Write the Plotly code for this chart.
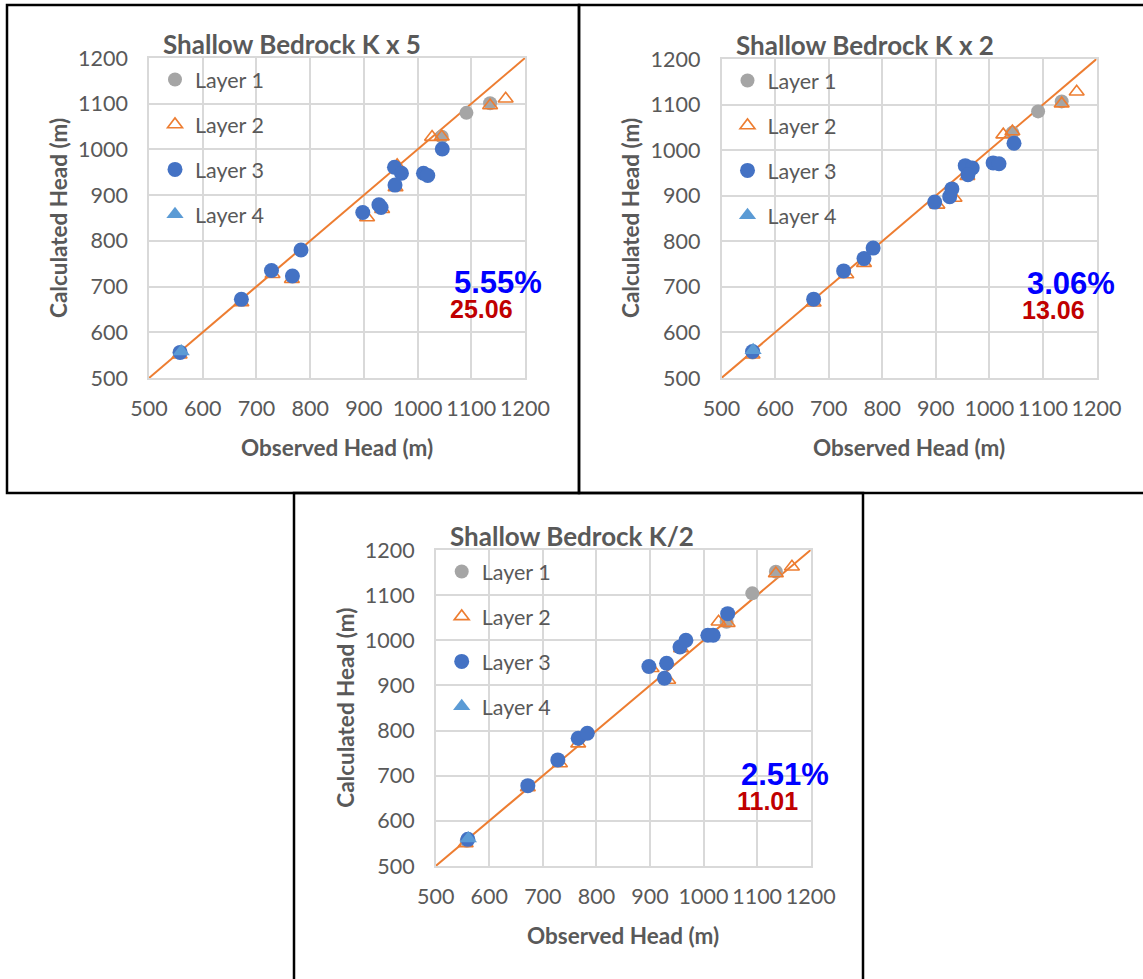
import plotly.graph_objects as go

W, H = 1143, 979

# ---- Observed / calculated heads (m) ----
# Shallow Bedrock K x 5
k5_l1_obs = [557, 1045, 1091, 1135]
k5_l1_calc = [556, 1028, 1080, 1101]
k5_l2_obs = [557, 672, 730, 766, 906, 934, 959, 962, 1027, 1045, 1135, 1164]
k5_l2_calc = [551, 665, 727, 716, 851, 869, 917, 965, 1027, 1028, 1096, 1111]
k5_l3_obs = [558, 672, 728, 767, 783, 898, 928, 932, 957, 970, 958, 1011, 1019, 1046]
k5_l3_calc = [556, 672, 735, 723, 780, 862, 879, 873, 961, 948, 922, 948, 943, 1001]
k5_l4_obs = [560]
k5_l4_calc = [558]

# Shallow Bedrock K x 2
k2_l1_obs = [558, 1043, 1091, 1135]
k2_l1_calc = [556, 1038, 1085, 1107]
k2_l2_obs = [558, 672, 733, 766, 903, 935, 959, 1026, 1043, 1135, 1163]
k2_l2_calc = [551, 665, 727, 752, 880, 895, 943, 1034, 1041, 1102, 1128]
k2_l3_obs = [558, 672, 728, 766, 783, 898, 926, 930, 955, 968, 960, 1007, 1018, 1046]
k2_l3_calc = [558, 673, 735, 762, 785, 886, 898, 915, 966, 961, 946, 972, 970, 1015]
k2_l4_obs = [559]
k2_l4_calc = [561]

# Shallow Bedrock K/2
kh_l1_obs = [558, 1043, 1091, 1135]
kh_l1_calc = [556, 1041, 1104, 1152]
kh_l2_obs = [556, 672, 732, 766, 903, 934, 958, 1028, 1045, 1135, 1165]
kh_l2_calc = [550, 674, 727, 771, 938, 912, 982, 1041, 1038, 1148, 1163]
kh_l3_obs = [560, 672, 728, 766, 783, 898, 927, 931, 956, 967, 1008, 1018, 1045]
kh_l3_calc = [559, 678, 735, 783, 794, 942, 916, 949, 985, 1000, 1011, 1011, 1059]
kh_l4_obs = [561]
kh_l4_calc = [561]

titles = ["Shallow Bedrock K x 5", "Shallow Bedrock K x 2", "Shallow Bedrock K/2"]
error_pct = ["5.55%", "3.06%", "2.51%"]
error_abs = ["25.06", "13.06", "11.01"]
layer_names = ["Layer 1", "Layer 2", "Layer 3", "Layer 4"]
one_to_one = [500, 1200]
tick_vals = [500, 600, 700, 800, 900, 1000, 1100, 1200]

panels = [
    [(k5_l1_obs, k5_l1_calc), (k5_l2_obs, k5_l2_calc), (k5_l3_obs, k5_l3_calc), (k5_l4_obs, k5_l4_calc)],
    [(k2_l1_obs, k2_l1_calc), (k2_l2_obs, k2_l2_calc), (k2_l3_obs, k2_l3_calc), (k2_l4_obs, k2_l4_calc)],
    [(kh_l1_obs, kh_l1_calc), (kh_l2_obs, kh_l2_calc), (kh_l3_obs, kh_l3_calc), (kh_l4_obs, kh_l4_calc)],
]

TEXT = "#595959"
GRID = "#D9D9D9"
ORANGE = "#ED7D31"
FONT = "Lato"

def px_x(p):
    return p / W

def px_y(p):
    return 1 - p / H

# plot-area pixel boxes: (left, right, top, bottom)
boxes = [(149, 525, 58, 378), (721.5, 1096.5, 59, 378), (435.7, 810.7, 550, 866)]

markers = [
    dict(symbol="circle", size=14, color="#A5A5A5"),
    dict(symbol="triangle-up-open", size=13, color=ORANGE, line=dict(width=1.6, color=ORANGE)),
    dict(symbol="circle", size=15, color="#4472C4"),
    dict(symbol="triangle-up", size=15, color="#5B9BD5"),
]

fig = go.Figure()
layout = {}
annotations = []

for i, (panel, box) in enumerate(zip(panels, boxes)):
    sfx = "" if i == 0 else str(i + 1)
    xa, ya = "x" + sfx, "y" + sfx
    leg = "legend" + sfx
    l, r, t, b = box

    fig.add_trace(go.Scatter(x=one_to_one, y=one_to_one, mode="lines",
                             line=dict(color=ORANGE, width=2),
                             showlegend=False, xaxis=xa, yaxis=ya, hoverinfo="skip"))
    for j, ((xs, ys), name, mk) in enumerate(zip(panel, layer_names, markers)):
        fig.add_trace(go.Scatter(x=xs, y=ys, mode="markers", name=name, marker=mk,
                                 xaxis=xa, yaxis=ya, legend=leg,
                                 legendgroup=f"{i}-{j}"))

    axis_common = dict(range=[500, 1200], tickvals=tick_vals, showgrid=True,
                       gridcolor=GRID, gridwidth=1.5, zeroline=False,
                       showline=True, linecolor=GRID, linewidth=1.5, mirror=True,
                       ticks="", tickfont=dict(family=FONT, size=21.5, color=TEXT),
                       automargin=False, fixedrange=True)
    layout["xaxis" + sfx] = dict(axis_common, domain=[px_x(l), px_x(r)], anchor=ya,
                                 ticklabelstandoff=10)
    layout["yaxis" + sfx] = dict(axis_common, domain=[px_y(b), px_y(t)], anchor=xa,
                                 ticklabelstandoff=15)

    layout[leg] = dict(x=px_x(l + 6), xanchor="left", y=px_y(t + 1), yanchor="top",
                       bgcolor="rgba(0,0,0,0)", font=dict(family=FONT, size=21.5, color=TEXT),
                       tracegroupgap=14, itemsizing="trace")

    cx = (l + r) / 2
    # panel title
    annotations.append(dict(text=f"<b>{titles[i]}</b>", x=px_x(l + 12), y=px_y(t - 14),
                            xref="paper", yref="paper", xanchor="left", yanchor="middle",
                            showarrow=False, font=dict(family=FONT, size=26, color=TEXT)))
    # axis titles
    annotations.append(dict(text="<b>Observed Head (m)</b>", x=px_x(cx), y=px_y(b + 69),
                            xref="paper", yref="paper", xanchor="center", yanchor="middle",
                            showarrow=False, font=dict(family=FONT, size=22.5, color=TEXT)))
    annotations.append(dict(text="<b>Calculated Head (m)</b>", x=px_x(l - 91), y=px_y((t + b) / 2),
                            xref="paper", yref="paper", xanchor="center", yanchor="middle",
                            textangle=-90, showarrow=False,
                            font=dict(family=FONT, size=22.5, color=TEXT)))
    # error statistics
    annotations.append(dict(text=f"<b>{error_pct[i]}</b>", x=px_x(l + 349), y=px_y(t + 224),
                            xref="paper", yref="paper", xanchor="center", yanchor="middle",
                            showarrow=False,
                            font=dict(family="Liberation Sans", size=31, color="#0000FF")))
    annotations.append(dict(text=f"<b>{error_abs[i]}</b>", x=px_x(l + 332), y=px_y(t + 251),
                            xref="paper", yref="paper", xanchor="center", yanchor="middle",
                            showarrow=False,
                            font=dict(family="Liberation Sans", size=25, color="#C00000")))

# panel frames
frames_px = [(7, 579, 5, 493), (579, 1150, 5, 493), (294, 863, 493, 990)]
shapes = [dict(type="rect", xref="paper", yref="paper",
               x0=px_x(x0), x1=px_x(x1), y0=px_y(y1), y1=px_y(y0),
               line=dict(color="black", width=2.5), fillcolor="rgba(0,0,0,0)")
          for x0, x1, y0, y1 in frames_px]

fig.update_layout(
    width=W, height=H, margin=dict(l=0, r=0, t=0, b=0, autoexpand=False),
    paper_bgcolor="white", plot_bgcolor="white",
    annotations=annotations, shapes=shapes, **layout,
)

fig.write_html("out.html")
